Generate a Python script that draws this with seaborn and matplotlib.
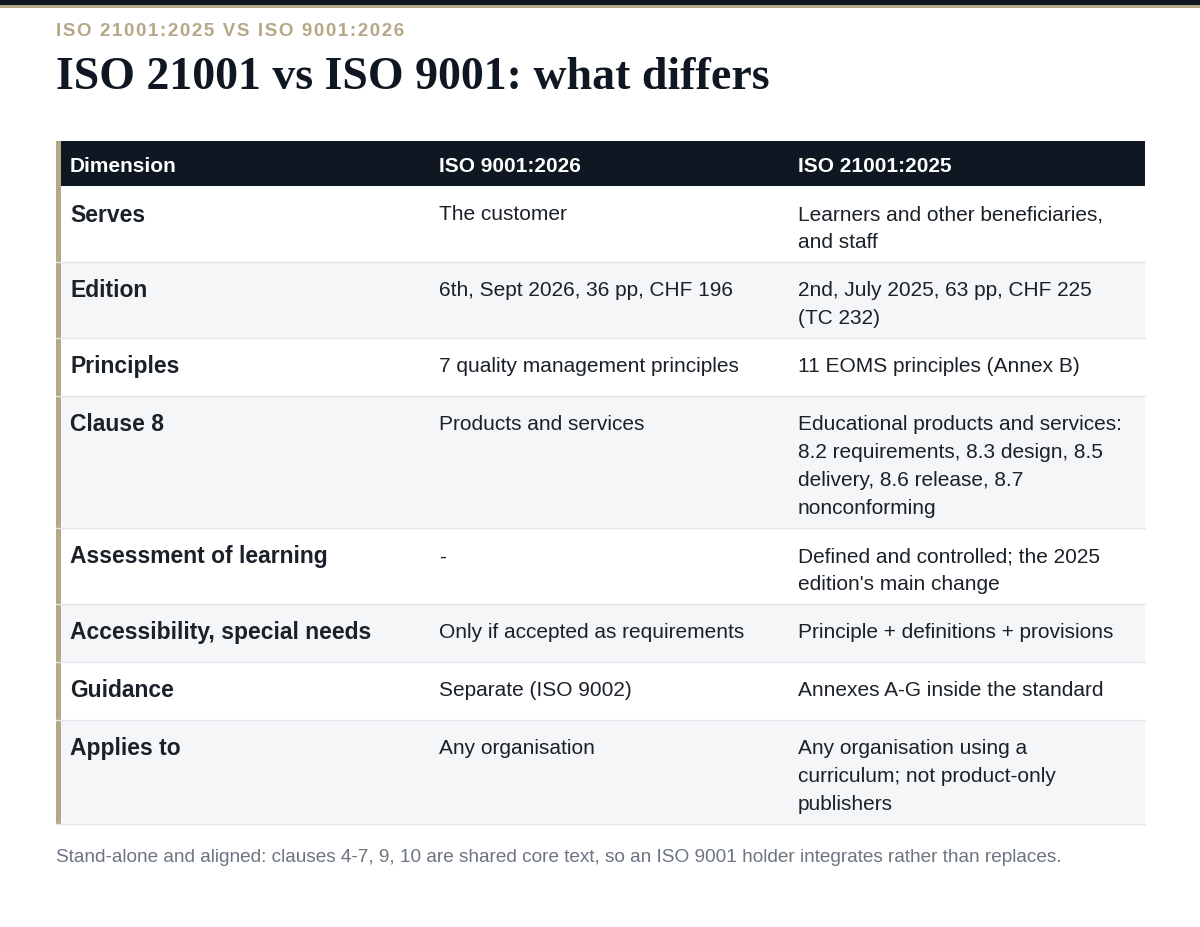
import matplotlib
matplotlib.use("Agg")
import matplotlib.pyplot as plt
import seaborn as sns

sns.set_theme(style="white")
plt.rcParams['font.family'] = ['Liberation Sans', 'DejaVu Sans']

kicker = "ISO 21001:2025 VS ISO 9001:2026"
title = "ISO 21001 vs ISO 9001: what differs"
headers = ["Dimension", "ISO 9001:2026", "ISO 21001:2025"]
dimensions = ["Serves", "Edition", "Principles", "Clause 8", "Assessment of learning",
              "Accessibility, special needs", "Guidance", "Applies to"]
iso9001 = ["The customer", "6th, Sept 2026, 36 pp, CHF 196", "7 quality management principles",
           "Products and services", "-", "Only if accepted as requirements",
           "Separate (ISO 9002)", "Any organisation"]
iso21001 = ["Learners and other beneficiaries,\nand staff",
            "2nd, July 2025, 63 pp, CHF 225\n(TC 232)",
            "11 EOMS principles (Annex B)",
            "Educational products and services:\n8.2 requirements, 8.3 design, 8.5\ndelivery, 8.6 release, 8.7\nnonconforming",
            "Defined and controlled; the 2025\nedition's main change",
            "Principle + definitions + provisions",
            "Annexes A-G inside the standard",
            "Any organisation using a\ncurriculum; not product-only\npublishers"]
footnote = "Stand-alone and aligned: clauses 4-7, 9, 10 are shared core text, so an ISO 9001 holder integrates rather than replaces."

W, H = 1200, 928
fig = plt.figure(figsize=(12, 9.28), dpi=100)
ax = fig.add_axes([0, 0, 1, 1])
ax.set_xlim(0, W); ax.set_ylim(H, 0); ax.axis('off')

dark = "#0f1722"; tan = "#b5a886"; text = "#1b2129"; stripe = "#f4f6f8"
ax.add_patch(plt.Rectangle((0, 0), W, 6, color=dark, lw=0))
ax.add_patch(plt.Rectangle((0, 6), W, 3, color=tan, lw=0))

spaced = "\u200a".join(kicker)
ax.text(56, 32, spaced, fontsize=13.5, fontweight='bold', color=tan,
        va='center', ha='left', fontfamily=['Liberation Sans', 'DejaVu Sans'])
ax.text(56, 78, title, fontsize=33, fontweight='bold', color=dark, va='center', ha='left',
        fontfamily='Liberation Serif')

x0, x1 = 56, 1145
cols = [70, 439, 798]
top = 142
ax.add_patch(plt.Rectangle((x0, top), x1 - x0, 45, color=dark, lw=0))
for c, h in zip(cols, headers):
    ax.text(c, top + 24, h, fontsize=15, fontweight='bold', color='white', va='center')
y = top + 45
for i, (d, a, b) in enumerate(zip(dimensions, iso9001, iso21001)):
    n = max(a.count("\n"), b.count("\n")) + 1
    h = 58 if n == 1 else 20 + 28 * n
    if i % 2 == 1:
        ax.add_patch(plt.Rectangle((x0, y), x1 - x0, h, color=stripe, lw=0))
    ax.plot([x0, x1], [y + h, y + h], color="#e3e6ea", lw=1)
    ax.text(cols[0], y + 28, d, fontsize=16.5, fontweight='bold', color=text, va='center')
    for c, t in ((cols[1], a), (cols[2], b)):
        for k, line in enumerate(t.split("\n")):
            ax.text(c, y + 28 + 28 * k, line, fontsize=15, color=text, va='center')
    y += h
ax.add_patch(plt.Rectangle((x0, top), 5, y - top, color=tan, lw=0))

ax.text(56, 858, footnote, fontsize=13.7, color="#6b7480", va='center')
fig.savefig("out.png", dpi=100, facecolor='white')
